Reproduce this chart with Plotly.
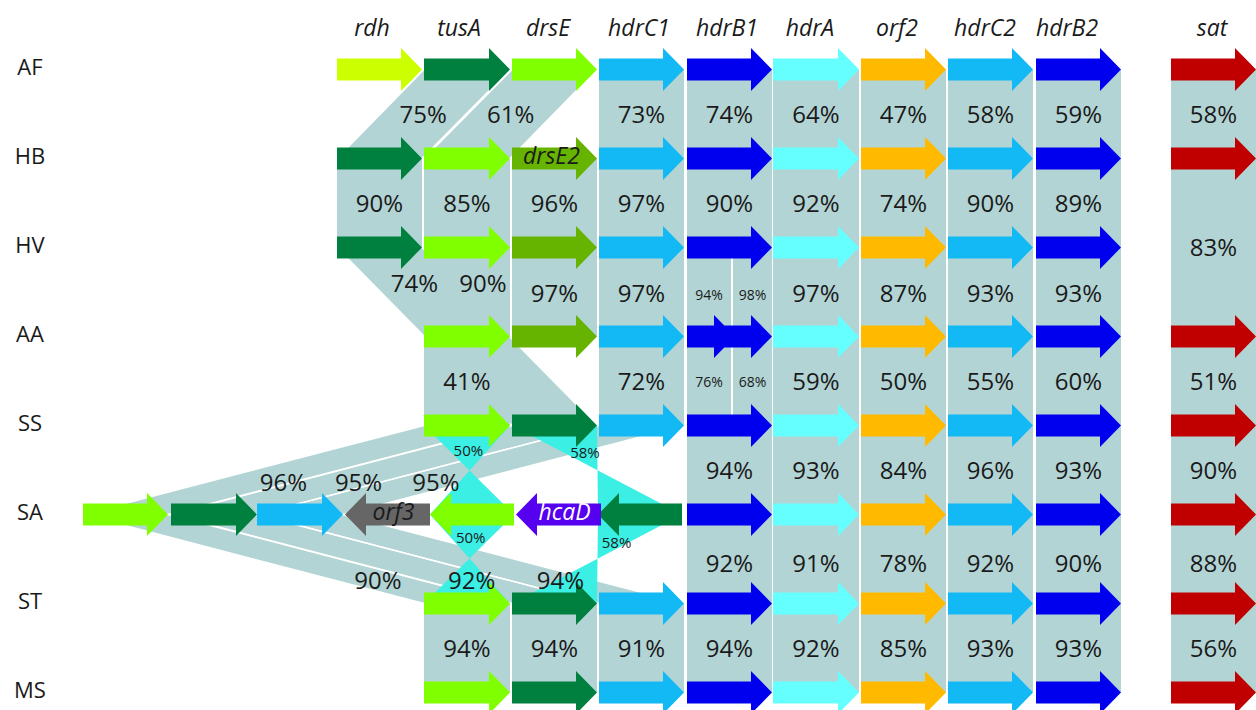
import plotly.graph_objects as go

# ---------------- data ----------------
rows = ["AF", "HB", "HV", "AA", "SS", "SA", "ST", "MS"]
gene_names = ["rdh", "tusA", "drsE", "hdrC1", "hdrB1", "hdrA", "orf2", "hdrC2", "hdrB2", "sat"]
slot_start = [337, 424, 512, 599, 687, 773, 861, 948, 1036, 1171]
slot_end = [422, 510, 597, 684, 772, 859, 946, 1033, 1121, 1256]

# colour key of the gene found in each slot, per organism (None = absent)
row_genes = {
    "AF": ["yg", "dg", "lg", "sky", "blue", "cyan", "orange", "sky", "blue", "red"],
    "HB": ["dg", "lg", "ol", "sky", "blue", "cyan", "orange", "sky", "blue", "red"],
    "HV": ["dg", "lg", "ol", "sky", "blue", "cyan", "orange", "sky", "blue", None],
    "AA": [None, "lg", "ol", "sky", None, "cyan", "orange", "sky", "blue", "red"],
    "SS": [None, "lg", "dg", "sky", "blue", "cyan", "orange", "sky", "blue", "red"],
    "SA": [None, None, None, None, "blue", "cyan", "orange", "sky", "blue", "red"],
    "ST": [None, "lg", "dg", "sky", "blue", "cyan", "orange", "sky", "blue", "red"],
    "MS": [None, "lg", "dg", "sky", "blue", "cyan", "orange", "sky", "blue", "red"],
}
inner_label_row = "HB"
inner_label_slot = 2
inner_label_text = "drsE2"

# genes outside the common slots
extra_row = ["SA", "SA", "SA", "SA", "SA", "SA", "SA", "AA", "AA"]
extra_start = [83, 171, 257, 345, 430, 516, 598, 687, 712]
extra_end = [168, 257, 343, 430, 514, 601, 682, 735, 772]
extra_strand = [1, 1, 1, -1, -1, -1, -1, 1, 1]
extra_color = ["lg", "dg", "sky", "gray", "lg", "purple", "dg", "blue", "blue"]
extra_label = ["", "", "", "orf3", "", "hcaD", "", "", ""]
extra_label_color = ["", "", "", "#1a1a1a", "", "#ffffff", "", "", ""]

# identity (%) between neighbouring organisms for genes in the same slot
pair_from = ["AF", "HB", "HV", "AA", "SS", "SA", "ST"]
pair_to = ["HB", "HV", "AA", "SS", "SA", "ST", "MS"]
pair_pct = [
    [None, None, None, 73, 74, 64, 47, 58, 59, 58],
    [90, 85, 96, 97, 90, 92, 74, 90, 89, None],
    [None, 90, 97, 97, None, 97, 87, 93, 93, None],
    [None, 41, None, 72, None, 59, 50, 55, 60, 51],
    [None, None, None, None, 94, 93, 84, 96, 93, 90],
    [None, None, None, None, 92, 91, 78, 92, 90, 88],
    [None, 94, 94, 91, 94, 92, 85, 93, 93, 56],
]

# other links (shifted, skipping or inverted)
sp_from = ["AF", "AF", "HB", "HV", "HV", "HV", "AA", "AA", "SS", "SS", "SS", "SA", "SA", "SA", "SS", "SA", "SS", "SA"]
sp_from_start = [424, 512, 1171, 337, 687, 733, 687, 733, 424, 512, 599, 83, 171, 257, 424, 430, 512, 598]
sp_from_end = [510, 597, 1256, 422, 731, 772, 731, 772, 510, 597, 684, 168, 257, 343, 510, 514, 597, 682]
sp_to = ["HB", "HB", "AA", "SS", "AA", "AA", "SS", "SS", "SA", "SA", "SA", "ST", "ST", "ST", "SA", "ST", "SA", "ST"]
sp_to_start = [337, 424, 1171, 512, 687, 733, 687, 733, 83, 171, 257, 424, 512, 599, 430, 424, 598, 512]
sp_to_end = [422, 510, 1256, 597, 731, 772, 731, 772, 168, 257, 343, 510, 597, 684, 514, 510, 682, 597]
sp_pct = [75, 61, 83, 74, 94, 98, 76, 68, 96, 95, 95, 90, 92, 94, 50, 50, 58, 58]
sp_inverted = [False] * 14 + [True] * 4

# ---------------- styles ----------------
COL = {
    "yg": "#ccff00", "dg": "#00803f", "lg": "#80ff00", "ol": "#66b300",
    "sky": "#12b9f5", "blue": "#0000ee", "cyan": "#66ffff", "orange": "#ffba00",
    "red": "#c00000", "gray": "#666666", "purple": "#5500ee",
}
BAND = "#b3d4d4"
INV = "#3cefe4"
TXT = "#1a1a1a"
FONT = "Open Sans"
ROW_PX = 89.0
HEAD_LEN = 21
BODY_H = 11 / ROW_PX
HEAD_H = 21.5 / ROW_PX
LAB_SHIFT = 2.5 / ROW_PX
BIG = 24

# label placement tweaks: fraction along link, x shift, font size
pair_t = [0.5, 0.5, 0.52, 0.5, 0.5, 0.545, 0.5]
pair_tweak = {(2, 1): (0.4, 16)}
sp_tweak = {3: (0.2, 0, BIG), 4: (0.52, 0, 14), 5: (0.52, 0, 14), 6: (0.5, 0, 14), 7: (0.5, 0, 14),
            8: (0.646, 37, BIG), 9: (0.646, 24, BIG), 10: (0.646, 15, BIG),
            11: (0.736, 1, BIG), 12: (0.736, 7, BIG), 13: (0.736, 9, BIG),
            14: (0.275, 0, 15), 15: (0.253, 0, 15), 16: (0.298, 5, 15), 17: (0.309, 3, 15)}
header_x = [372, 459, 548, 639, 727, 810, 897, 985, 1067, 1212]


def ry(name):
    return rows.index(name)


def arrow_pts(x0, x1, y, strand):
    if strand > 0:
        b = x1 - HEAD_LEN
        xs = [x0, b, b, x1, b, b, x0, x0]
    else:
        b = x0 + HEAD_LEN
        xs = [x1, b, b, x0, b, b, x1, x1]
    ys = [y - BODY_H, y - BODY_H, y - HEAD_H, y, y + HEAD_H, y + BODY_H, y + BODY_H, y - BODY_H]
    return xs, ys


def band_pts(y0, a0, a1, y1, b0, b1, inv):
    if inv:
        return [a0, a1, b0, b1, a0], [y0, y0, y1, y1, y0]
    return [a0, a1, b1, b0, a0], [y0, y0, y1, y1, y0]


fig = go.Figure()

vx, vy = [], []      # straight bands
dx_, dy_ = [], []    # diagonal bands (white outline)
ix, iy = [], []      # inverted links
lab_x, lab_y, lab_t, lab_s = [], [], [], []

for p in range(len(pair_from)):
    y0, y1 = ry(pair_from[p]), ry(pair_to[p])
    for s, v in enumerate(pair_pct[p]):
        if v is None:
            continue
        xs, ys = band_pts(y0, slot_start[s], slot_end[s], y1, slot_start[s], slot_end[s], False)
        vx += xs + [None]
        vy += ys + [None]
        t, sh = pair_tweak.get((p, s), (pair_t[p], 0))
        lab_x.append((slot_start[s] + slot_end[s]) / 2 + sh)
        lab_y.append(y0 + t * (y1 - y0) + LAB_SHIFT)
        lab_t.append(f"{v}%")
        lab_s.append(BIG)

for i in range(len(sp_pct)):
    y0, y1 = ry(sp_from[i]), ry(sp_to[i])
    a0, a1, b0, b1 = sp_from_start[i], sp_from_end[i], sp_to_start[i], sp_to_end[i]
    xs, ys = band_pts(y0, a0, a1, y1, b0, b1, sp_inverted[i])
    if sp_inverted[i]:
        ix += xs + [None]
        iy += ys + [None]
    elif a0 == b0:
        vx += xs + [None]
        vy += ys + [None]
    else:
        dx_ += xs + [None]
        dy_ += ys + [None]
    t, sh, size = sp_tweak.get(i, (0.5, 0, BIG))
    lab_x.append((a0 + a1) / 2 * (1 - t) + (b0 + b1) / 2 * t + sh)
    lab_y.append(y0 + t * (y1 - y0) + LAB_SHIFT)
    lab_t.append(f"{sp_pct[i]}%")
    lab_s.append(size)

fig.add_trace(go.Scatter(x=dx_, y=dy_, mode="lines", fill="toself", fillcolor=BAND,
                         line=dict(color="white", width=1.3), hoverinfo="skip", showlegend=False))
fig.add_trace(go.Scatter(x=vx, y=vy, mode="lines", fill="toself", fillcolor=BAND,
                         line=dict(color=BAND, width=0), hoverinfo="skip", showlegend=False))
fig.add_trace(go.Scatter(x=ix, y=iy, mode="lines", fill="toself", fillcolor=INV,
                         line=dict(color=INV, width=0), hoverinfo="skip", showlegend=False))

# arrows grouped by colour
groups = {}
for r in rows:
    for s, c in enumerate(row_genes[r]):
        if c is None:
            continue
        xs, ys = arrow_pts(slot_start[s], slot_end[s], ry(r), 1)
        gx, gy = groups.setdefault(c, ([], []))
        gx += xs + [None]
        gy += ys + [None]
for i in range(len(extra_row)):
    xs, ys = arrow_pts(extra_start[i], extra_end[i], ry(extra_row[i]), extra_strand[i])
    gx, gy = groups.setdefault(extra_color[i], ([], []))
    gx += xs + [None]
    gy += ys + [None]

for c, (gx, gy) in groups.items():
    fig.add_trace(go.Scatter(x=gx, y=gy, mode="lines", fill="toself", fillcolor=COL[c],
                             line=dict(color=COL[c], width=0), hoverinfo="skip", showlegend=False))

# percentage labels
for size in sorted(set(lab_s)):
    idx = [k for k in range(len(lab_s)) if lab_s[k] == size]
    fig.add_trace(go.Scatter(x=[lab_x[k] for k in idx], y=[lab_y[k] for k in idx],
                             text=[lab_t[k] for k in idx], mode="text",
                             textfont=dict(family=FONT, size=size, color=TXT),
                             hoverinfo="skip", showlegend=False))

# labels inside arrows
in_x = [(slot_start[inner_label_slot] + slot_end[inner_label_slot]) / 2 - 3]
in_y = [ry(inner_label_row)]
in_t = [inner_label_text]
in_c = [TXT]
for i in range(len(extra_row)):
    if extra_label[i]:
        in_x.append((extra_start[i] + extra_end[i]) / 2 + (6 if extra_strand[i] < 0 else -6))
        in_y.append(ry(extra_row[i]))
        in_t.append(extra_label[i])
        in_c.append(extra_label_color[i])
fig.add_trace(go.Scatter(x=in_x, y=in_y, text=in_t, mode="text",
                         textfont=dict(family=FONT, size=23, color=in_c, style="italic"),
                         hoverinfo="skip", showlegend=False))

# gene headers
fig.add_trace(go.Scatter(x=header_x, y=[-0.44] * len(gene_names), text=gene_names, mode="text",
                         textfont=dict(family=FONT, size=23, color=TXT, style="italic"),
                         hoverinfo="skip", showlegend=False))

# organism labels
fig.add_trace(go.Scatter(x=[30] * len(rows), y=list(range(len(rows))), text=rows, mode="text",
                         textfont=dict(family=FONT, size=22, color=TXT),
                         hoverinfo="skip", showlegend=False))

top = -69.5 / ROW_PX
bottom = (710 - 69.5) / ROW_PX
fig.update_layout(
    width=1256, height=710, margin=dict(l=0, r=0, t=0, b=0),
    paper_bgcolor="white", plot_bgcolor="white",
    xaxis=dict(range=[0, 1256], visible=False, fixedrange=True),
    yaxis=dict(range=[bottom, top], visible=False, fixedrange=True),
    showlegend=False,
)
fig.write_html("out.html")
